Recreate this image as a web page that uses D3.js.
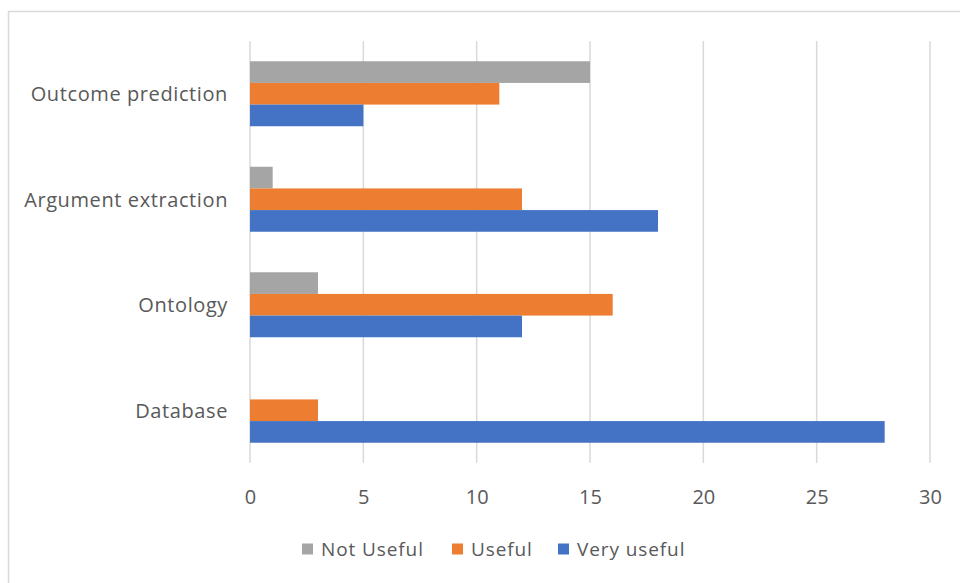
<!DOCTYPE html>
<html>
<head>
<meta charset="utf-8">
<script src="https://cdn.jsdelivr.net/npm/d3@7"></script>
<style>
  body { margin: 0; background: #fff; }
  text { font-family: "Open Sans", "Noto Sans", sans-serif; fill: #595959; }
</style>
</head>
<body>
<div id="chart"></div>
<script>
// chart data
var categories = ["Outcome prediction", "Argument extraction", "Ontology", "Database"];
var seriesNames = ["Not Useful", "Useful", "Very useful"];
var notUseful = [15, 1, 3, 0];
var useful = [11, 12, 16, 3];
var veryUseful = [5, 18, 12, 28];
var xTicks = [0, 5, 10, 15, 20, 25, 30];

var colors = ["#a5a5a5", "#ed7d31", "#4472c4"];
var w = 960, h = 583;

var svg = d3.select("#chart").append("svg")
    .attr("width", w)
    .attr("height", h);

// chart frame (runs off the right and bottom edges)
svg.append("rect")
    .attr("x", 8.5).attr("y", 11.5)
    .attr("width", 980).attr("height", 600)
    .attr("fill", "none")
    .attr("stroke", "#d9d9d9")
    .attr("stroke-width", 1.5);

var plotLeft = 250, plotRight = 930, plotTop = 41, plotBottom = 463;

var x = d3.scaleLinear().domain([0, 30]).range([plotLeft, plotRight]);

var y = d3.scaleBand()
    .domain(categories)
    .range([plotTop, plotBottom])
    .paddingInner(0.384)
    .paddingOuter(0.192);

var ySub = d3.scaleBand()
    .domain(seriesNames)
    .range([0, y.bandwidth()]);

// gridlines
svg.append("g")
    .selectAll("line")
    .data(xTicks)
    .enter().append("line")
    .attr("x1", function (d) { return x(d); })
    .attr("x2", function (d) { return x(d); })
    .attr("y1", plotTop)
    .attr("y2", plotBottom)
    .attr("stroke", "#d9d9d9")
    .attr("stroke-width", 1.5);

// bars
var rows = categories.map(function (c, i) {
    return { cat: c, vals: [notUseful[i], useful[i], veryUseful[i]] };
});

var groups = svg.selectAll(".grp")
    .data(rows)
    .enter().append("g")
    .attr("class", "grp")
    .attr("transform", function (d) { return "translate(0," + y(d.cat) + ")"; });

groups.selectAll("rect")
    .data(function (d) {
        return d.vals.map(function (v, j) { return { name: seriesNames[j], v: v, j: j }; });
    })
    .enter().append("rect")
    .attr("x", x(0))
    .attr("y", function (d) { return ySub(d.name); })
    .attr("width", function (d) { return x(d.v) - x(0); })
    .attr("height", ySub.bandwidth())
    .attr("fill", function (d) { return colors[d.j]; });

// category labels
var yAxis = d3.axisLeft(y).tickSize(0).tickPadding(22);
var gy = svg.append("g")
    .attr("transform", "translate(" + plotLeft + ",0)")
    .call(yAxis);
gy.select(".domain").remove();
gy.selectAll("text")
    .style("font-size", "20px")
    .style("letter-spacing", "0.6px")
    .attr("fill", "#595959")
    .attr("dy", "0.38em");

// x axis labels
var xAxis = d3.axisBottom(x).tickValues(xTicks).tickSize(0).tickPadding(27);
var gx = svg.append("g")
    .attr("transform", "translate(0," + plotBottom + ")")
    .call(xAxis);
gx.select(".domain").remove();
gx.selectAll("text")
    .style("font-size", "20px")
    .attr("fill", "#595959");

// legend
var legendX = [302, 452, 558];
var legend = svg.selectAll(".leg")
    .data(seriesNames)
    .enter().append("g")
    .attr("class", "leg")
    .attr("transform", function (d, i) { return "translate(" + legendX[i] + ",549)"; });

legend.append("rect")
    .attr("x", 0).attr("y", -5.5)
    .attr("width", 11).attr("height", 11)
    .attr("fill", function (d, i) { return colors[i]; });

legend.append("text")
    .attr("x", 19)
    .attr("dy", "0.35em")
    .style("font-size", "19px")
    .style("letter-spacing", "0.9px")
    .text(function (d) { return d; });
</script>
</body>
</html>
